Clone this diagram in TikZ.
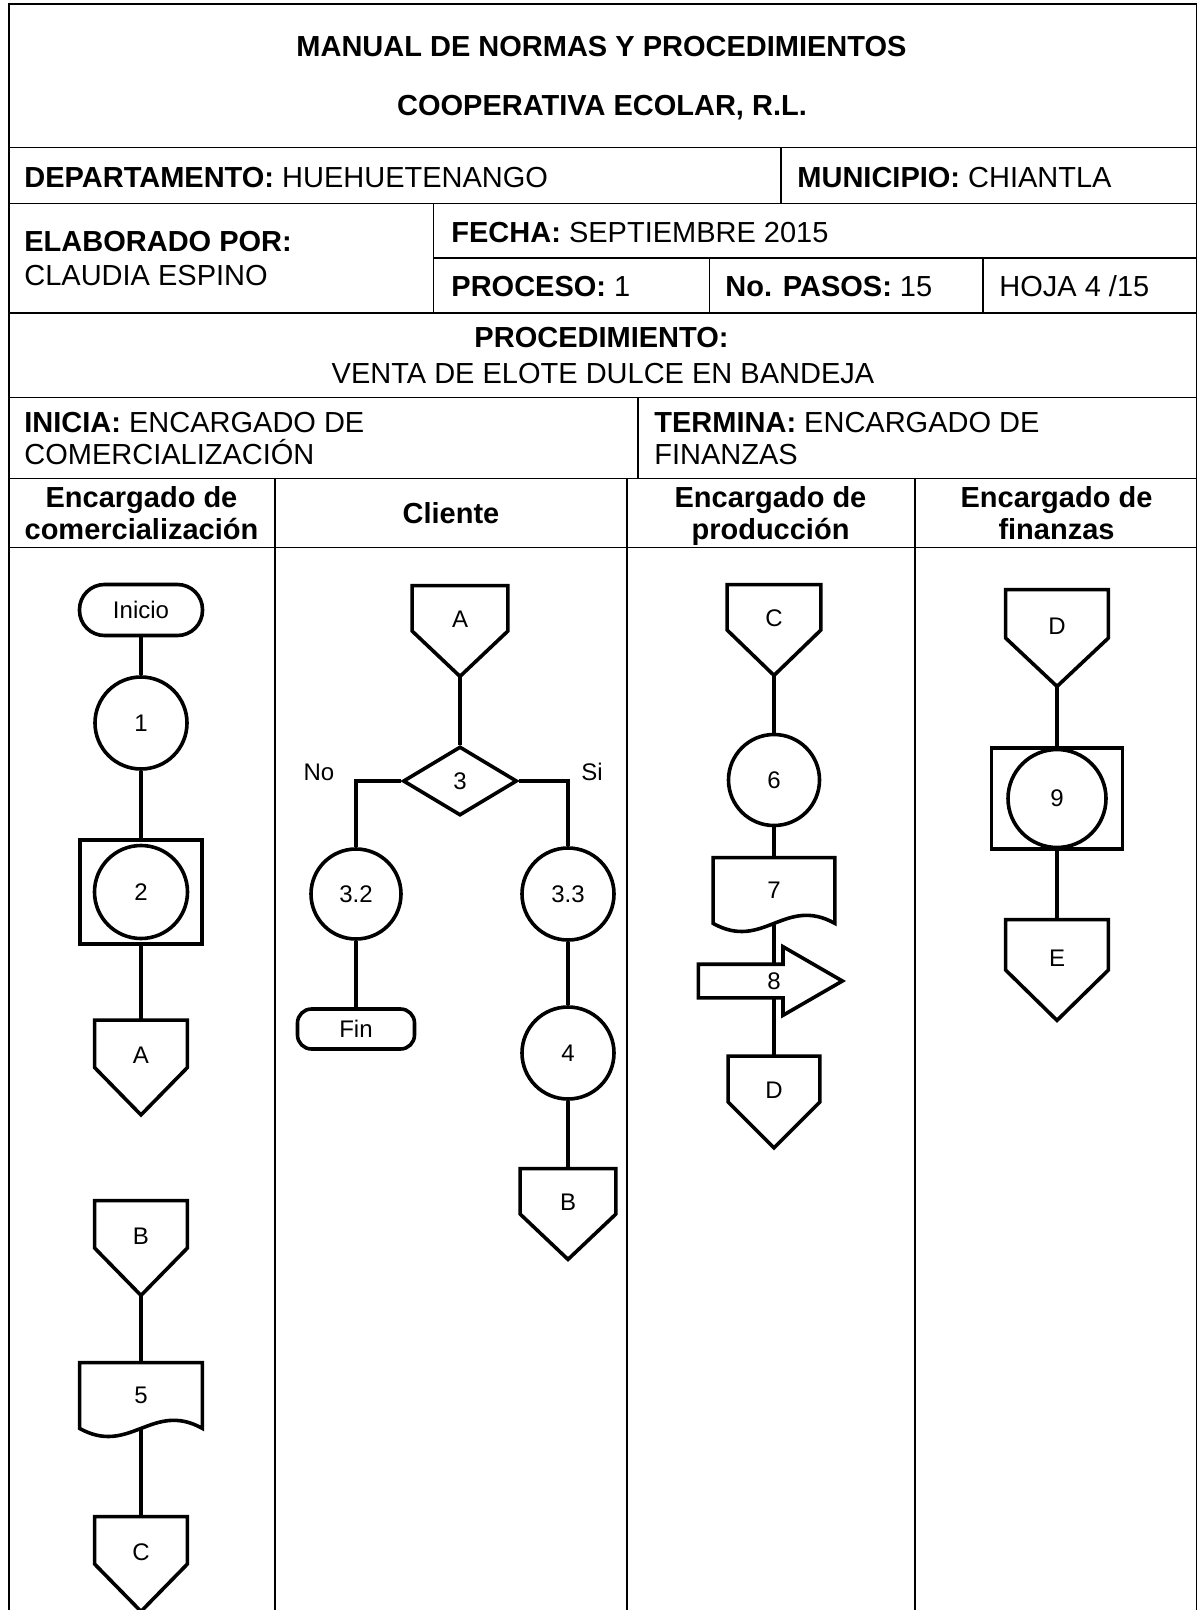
\documentclass[tikz,border=0pt]{standalone}
\usepackage{fontspec}
\setmainfont{Liberation Sans}
\usetikzlibrary{shapes,arrows,positioning}
\tikzset{rule/.style={line width=0.9pt}}
\tikzset{shapeline/.style={line width=1.8pt}}
\tikzset{link/.style={draw,line width=1.6pt}}
\tikzset{hdr/.style={font=\fontsize{14.5}{16.5}\selectfont,inner sep=0pt}}
\tikzset{flow/.style={font=\fontsize{12}{14}\selectfont}}
\tikzset{terminal/.style={flow,rectangle,rounded corners=12.5pt,draw,shapeline,minimum width=61.5pt,minimum height=25.5pt}}
\tikzset{endbox/.style={flow,rectangle,rounded corners=7pt,draw,shapeline,minimum width=58.5pt,minimum height=20pt}}
\tikzset{activity/.style={flow,circle,draw,shapeline,minimum size=46pt,inner sep=0pt}}
\tikzset{combined/.style={rectangle,draw,shapeline,minimum width=61pt,minimum height=52pt}}
\tikzset{decision/.style={flow,diamond,draw,shapeline,minimum width=57pt,minimum height=34.5pt,inner sep=0pt}}
\tikzset{offpage/.style={flow,rectangle,minimum width=#1,minimum height=47pt,inner sep=0pt,text height=8.6pt,text depth=12.5pt},offpage/.default=46pt}
\tikzset{docbox/.style={flow,rectangle,minimum width=61pt,minimum height=32.5pt,inner sep=0pt}}
\tikzset{transport/.style={single arrow,draw,shapeline,fill=white,single arrow tip angle=60,single arrow head extend=8.75pt,minimum height=72pt,inner ysep=3.5pt,text height=8pt,text depth=0pt}}

\begin{document}
\begin{tikzpicture}[x=0.5pt,y=-0.5pt]
    \useasboundingbox (0,0) rectangle (1199,1610);

    % table
    \draw[rule] (9,1610) -- (9,4) -- (1196.5,4) -- (1196.5,1610);
    \foreach \y in {147.5,203.5,313,397.5,478.5,547.5}
        \draw[rule] (9,\y) -- (1196.5,\y);
    \draw[rule] (433.5,258) -- (1196.5,258);
    \draw[rule] (781,147.5) -- (781,203.5);
    \draw[rule] (433.5,203.5) -- (433.5,313);
    \draw[rule] (709.5,258) -- (709.5,313);
    \draw[rule] (983,258) -- (983,313);
    \draw[rule] (638,397.5) -- (638,478.5);
    \foreach \x in {275,627,915}
        \draw[rule] (\x,478.5) -- (\x,1610);

    \node[hdr,anchor=base] (manual) at (601.5,57) {\textbf{MANUAL DE NORMAS Y PROCEDIMIENTOS}};
    \node[hdr,anchor=base] (coop) at (602,116) {\textbf{COOPERATIVA ECOLAR, R.L.}};
    \node[hdr,anchor=base west] (depto) at (24,187.5) {\textbf{DEPARTAMENTO:} HUEHUETENANGO};
    \node[hdr,anchor=base west] (muni) at (797,187.5) {\textbf{MUNICIPIO:} CHIANTLA};
    \node[hdr,anchor=base west] (elab) at (24,252) {\textbf{ELABORADO POR:}};
    \node[hdr,anchor=base west] (autor) at (24,285.5) {CLAUDIA ESPINO};
    \node[hdr,anchor=base west] (fecha) at (451,243) {\textbf{FECHA:} SEPTIEMBRE 2015};
    \node[hdr,anchor=base west] (proceso) at (451,296.5) {\textbf{PROCESO:} 1};
    \node[hdr,anchor=base west] (pasos) at (725,296.5) {\textbf{No. PASOS:} 15};
    \node[hdr,anchor=base west] (hoja) at (999,296.5) {HOJA 4 /15};
    \node[hdr,anchor=base] (proc) at (601.5,348) {\textbf{PROCEDIMIENTO:}};
    \node[hdr,anchor=base] (venta) at (603,384) {VENTA DE ELOTE DULCE EN BANDEJA};
    \node[hdr,anchor=base west] (inicia) at (24,432) {\textbf{INICIA:} ENCARGADO DE};
    \node[hdr,anchor=base west] (inicia2) at (24,464) {COMERCIALIZACIÓN};
    \node[hdr,anchor=base west] (termina) at (654,432) {\textbf{TERMINA:} ENCARGADO DE};
    \node[hdr,anchor=base west] (termina2) at (654,464) {FINANZAS};

    % lanes
    \node[hdr,anchor=base] (lane1) at (141.5,507) {\textbf{Encargado de}};
    \node[hdr,anchor=base] (lane1b) at (141.5,539) {\textbf{comercialización}};
    \node[hdr,anchor=base] (lane2) at (451,523) {\textbf{Cliente}};
    \node[hdr,anchor=base] (lane3) at (770.5,507) {\textbf{Encargado de}};
    \node[hdr,anchor=base] (lane3b) at (770.5,539) {\textbf{producción}};
    \node[hdr,anchor=base] (lane4) at (1056.5,507) {\textbf{Encargado de}};
    \node[hdr,anchor=base] (lane4b) at (1056.5,539) {\textbf{finanzas}};

    % comercializacion
    \node[terminal] (inicio) at (141,610) {Inicio};
    \node[activity,below of=inicio,node distance=56.5pt] (p1) {1};
    \node[combined,below of=p1,node distance=84.5pt] (box2) {};
    \node[activity,minimum size=46.5pt] (p2) at (box2) {2};
    \node[offpage,below of=box2,node distance=87.75pt] (outA) {A};
    \node[offpage,below of=outA,node distance=90.25pt] (inB) {B};
    \node[docbox,below of=inB,node distance=73.75pt] (doc5) {5};
    \node[offpage,below of=doc5,node distance=84.25pt] (outC) {C};

    % cliente
    \node[offpage=47.5pt,minimum height=45pt] (inA) at (460,631) {A};
    \node[decision,below of=inA,node distance=75pt] (d3) {3};
    \node[activity,minimum size=45pt] (p32) at (356,894) {3.2};
    \node[endbox,below of=p32,node distance=67.5pt] (fin) {Fin};
    \node[activity] (p33) at (568,894) {3.3};
    \node[activity,below of=p33,node distance=79.5pt] (p4) {4};
    \node[offpage=47.5pt,minimum height=45pt,below of=p4,node distance=80.5pt] (outB) {B};

    % produccion
    \node[offpage=46.5pt,minimum height=45pt] (inC) at (774,630) {C};
    \node[activity,minimum size=45.5pt,below of=inC,node distance=75pt] (p6) {6};
    \node[docbox,minimum width=60.5pt,below of=p6,node distance=55.25pt] (doc7) {7};
    \node[offpage=45.5pt,minimum height=45.5pt,below of=doc7,node distance=105.75pt] (outD) {D};

    % finanzas
    \node[offpage=51pt,minimum height=48pt] (inD) at (1057,638) {D};
    \node[combined,minimum width=65.5pt,minimum height=50.5pt,below of=inD,node distance=80.25pt] (box9) {};
    \node[activity,minimum size=49pt] (p9) at (box9) {9};
    \node[offpage=51pt,minimum height=50pt,below of=box9,node distance=85.75pt] (outE) {E};

    \foreach \n in {outA,inB,outC,inA,outB,inC,outD,inD,outE}
        \draw[shapeline] (\n.north west) -- (\n.north east) -- (\n.east) -- (\n.south) -- (\n.west) -- cycle;
    \foreach \n in {doc5,doc7}
        \draw[shapeline] (\n.south west) -- (\n.north west) -- (\n.north east) -- (\n.south east)
            .. controls +(-50,-28) and +(50,28) .. (\n.south west) -- cycle;

    \path[link] (inicio) -- (p1);
    \path[link] (p1) -- (box2);
    \path[link] (box2) -- (outA);
    \path[link] (inB) -- (doc5);
    \path[link] (doc5) -- (outC);
    \path[link] (inA) -- (d3);
    \path[link] (d3.west) -| (p32.north);
    \path[link] (d3.east) -| (p33.north);
    \path[link] (p32) -- (fin);
    \path[link] (p33) -- (p4);
    \path[link] (p4) -- (outB);
    \path[link] (inC) -- (p6);
    \path[link] (p6) -- (doc7);
    \path[link] (doc7) -- (outD);
    \path[link] (inD) -- (box9);
    \path[link] (box9) -- (outE);

    \node[transport,anchor=tip] (t8) at (846,981) {};
    \node[flow] (n8) at ([xshift=-36pt]t8.tip) {8};
    \node[flow,anchor=base] (no) at (319,780) {No};
    \node[flow,anchor=base] (si) at (592,780) {Si};
\end{tikzpicture}
\end{document}
